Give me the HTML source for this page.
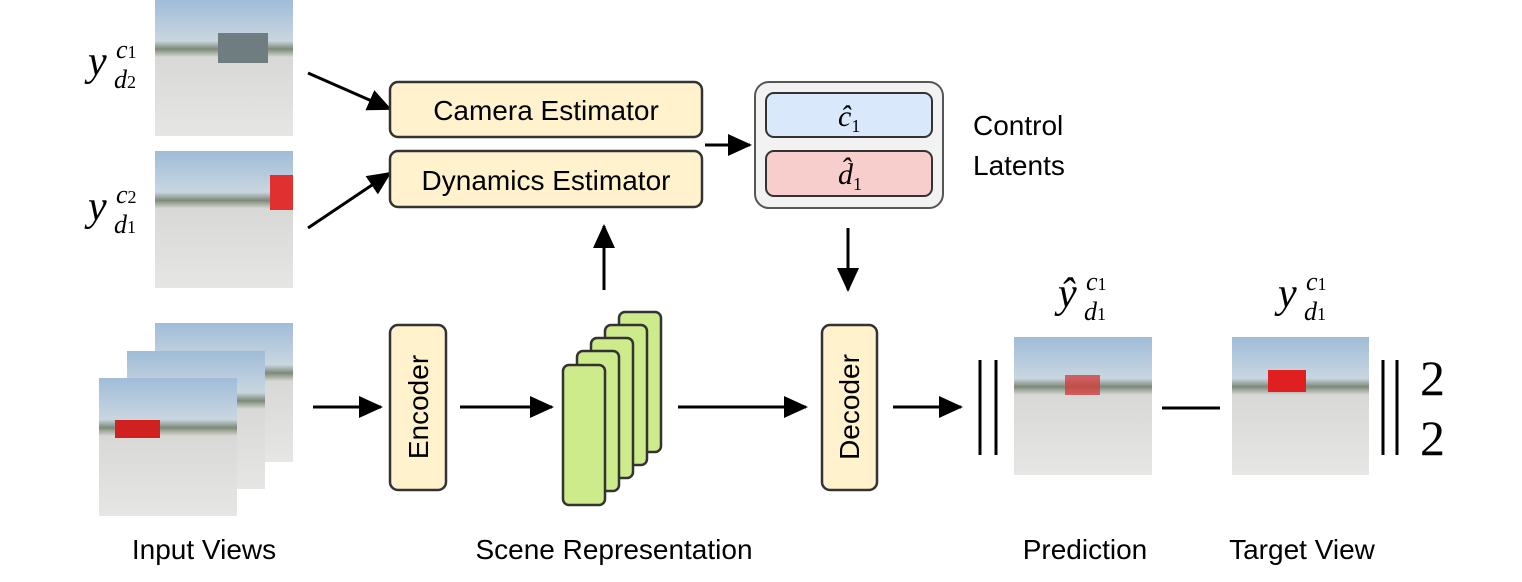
<!DOCTYPE html>
<html><head><meta charset="utf-8"><style>
body{margin:0;background:#fff;}
</style></head><body>
<svg width="1522" height="577" viewBox="0 0 1522 577" xmlns="http://www.w3.org/2000/svg" font-family="Liberation Sans, sans-serif">
<defs>
<linearGradient id="ph" x1="0" y1="0" x2="0" y2="1">
<stop offset="0" stop-color="#9fbcd8"/><stop offset="0.3" stop-color="#c9d6e0"/><stop offset="0.36" stop-color="#7d8a78"/><stop offset="0.42" stop-color="#d8d8d6"/><stop offset="1" stop-color="#e6e6e4"/>
</linearGradient>
<marker id="a" markerWidth="24" markerHeight="24" refX="22" refY="12" orient="auto" markerUnits="userSpaceOnUse" viewBox="0 0 24 24"><path d="M0,1L24,12L0,23z" fill="#000"/></marker>
</defs>
<g stroke="#000" stroke-width="3" fill="none">
<line x1="308" y1="73" x2="390" y2="109" marker-end="url(#a)"/>
<line x1="308" y1="228" x2="390" y2="173" marker-end="url(#a)"/>
<line x1="705" y1="145" x2="750" y2="145" marker-end="url(#a)"/>
<line x1="604" y1="290" x2="604" y2="226" marker-end="url(#a)"/>
<line x1="848" y1="228" x2="848" y2="290" marker-end="url(#a)"/>
<line x1="313" y1="407" x2="381" y2="407" marker-end="url(#a)"/>
<line x1="460" y1="407" x2="552" y2="407" marker-end="url(#a)"/>
<line x1="678" y1="407" x2="806" y2="407" marker-end="url(#a)"/>
<line x1="893" y1="407" x2="961" y2="407" marker-end="url(#a)"/>
</g>
<rect x="155" y="0" width="138" height="136" fill="url(#ph)"/>
<rect x="218" y="33" width="50" height="30" fill="#6f7c80"/>
<rect x="155" y="151" width="138" height="137" fill="url(#ph)"/>
<rect x="270" y="175" width="23" height="35" fill="#e03030"/>
<rect x="155" y="323" width="138" height="139" fill="url(#ph)"/>
<rect x="127" y="351" width="138" height="138" fill="url(#ph)"/>
<rect x="99" y="378" width="138" height="138" fill="url(#ph)"/>
<rect x="115" y="420" width="45" height="18" fill="#d02020"/>
<rect x="1014" y="337" width="138" height="138" fill="url(#ph)"/>
<rect x="1065" y="375" width="35" height="20" fill="#d04040" opacity="0.8"/>
<rect x="1232" y="337" width="137" height="138" fill="url(#ph)"/>
<rect x="1268" y="370" width="38" height="22" fill="#e02020"/>
<rect x="390" y="82" width="312" height="55" rx="8" fill="#fff2cc" stroke="#333" stroke-width="2.5"/>
<rect x="390" y="151" width="312" height="56" rx="8" fill="#fff2cc" stroke="#333" stroke-width="2.5"/>
<text x="546" y="120" font-size="28" text-anchor="middle">Camera Estimator</text>
<text x="546" y="190" font-size="28" text-anchor="middle">Dynamics Estimator</text>
<rect x="755" y="82" width="188" height="126" rx="14" fill="#f2f2f2" stroke="#555" stroke-width="2"/>
<rect x="766" y="93" width="166" height="44" rx="8" fill="#dae8fc" stroke="#333" stroke-width="2"/>
<rect x="766" y="151" width="166" height="45" rx="8" fill="#f8cecc" stroke="#333" stroke-width="2"/>
<g font-family="Liberation Serif, serif" font-style="italic">
<text x="838" y="126" font-size="30">ĉ<tspan font-size="18" font-style="normal" dy="6">1</tspan></text>
<text x="838" y="184" font-size="30">d̂<tspan font-size="18" font-style="normal" dy="6">1</tspan></text>
</g>
<text x="973" y="135" font-size="28">Control</text>
<text x="973" y="175" font-size="28">Latents</text>
<rect x="390" y="325" width="56" height="165" rx="8" fill="#fff2cc" stroke="#333" stroke-width="2.5"/>
<text transform="translate(428,407) rotate(-90)" font-size="28" text-anchor="middle">Encoder</text>
<rect x="822" y="325" width="55" height="165" rx="8" fill="#fff2cc" stroke="#333" stroke-width="2.5"/>
<text transform="translate(859,407) rotate(-90)" font-size="28" text-anchor="middle">Decoder</text>
<g fill="#cdeb8b" stroke="#333" stroke-width="2.5">
<rect x="619" y="312" width="42" height="140" rx="6"/>
<rect x="605" y="325" width="42" height="140" rx="6"/>
<rect x="591" y="338" width="42" height="140" rx="6"/>
<rect x="577" y="351" width="42" height="140" rx="6"/>
<rect x="563" y="365" width="42" height="140" rx="6"/>
</g>
<g stroke="#000" stroke-width="3">
<line x1="980" y1="360" x2="980" y2="455"/><line x1="996" y1="360" x2="996" y2="455"/>
<line x1="1162" y1="408" x2="1220" y2="408"/>
<line x1="1383" y1="360" x2="1383" y2="455"/><line x1="1397" y1="360" x2="1397" y2="455"/>
</g>
<g font-family="Liberation Serif, serif" font-size="50">
<text x="1420" y="395">2</text>
<text x="1420" y="455">2</text>
</g>
<g font-family="Liberation Serif, serif" font-style="italic">
<text x="88" y="75" font-size="42">y</text><text x="116" y="58" font-size="26">c<tspan font-size="18" font-style="normal">1</tspan></text><text x="114" y="88" font-size="26">d<tspan font-size="18" font-style="normal">2</tspan></text>
<text x="88" y="220" font-size="42">y</text><text x="116" y="203" font-size="26">c<tspan font-size="18" font-style="normal">2</tspan></text><text x="114" y="233" font-size="26">d<tspan font-size="18" font-style="normal">1</tspan></text>
<text x="1058" y="307" font-size="42">ŷ</text><text x="1086" y="290" font-size="26">c<tspan font-size="18" font-style="normal">1</tspan></text><text x="1084" y="320" font-size="26">d<tspan font-size="18" font-style="normal">1</tspan></text>
<text x="1278" y="307" font-size="42">y</text><text x="1306" y="290" font-size="26">c<tspan font-size="18" font-style="normal">1</tspan></text><text x="1304" y="320" font-size="26">d<tspan font-size="18" font-style="normal">1</tspan></text>
</g>
<text x="204" y="559" font-size="28" text-anchor="middle">Input Views</text>
<text x="614" y="559" font-size="28" text-anchor="middle">Scene Representation</text>
<text x="1085" y="559" font-size="28" text-anchor="middle">Prediction</text>
<text x="1302" y="559" font-size="28" text-anchor="middle">Target View</text>
</svg>
</body></html>
